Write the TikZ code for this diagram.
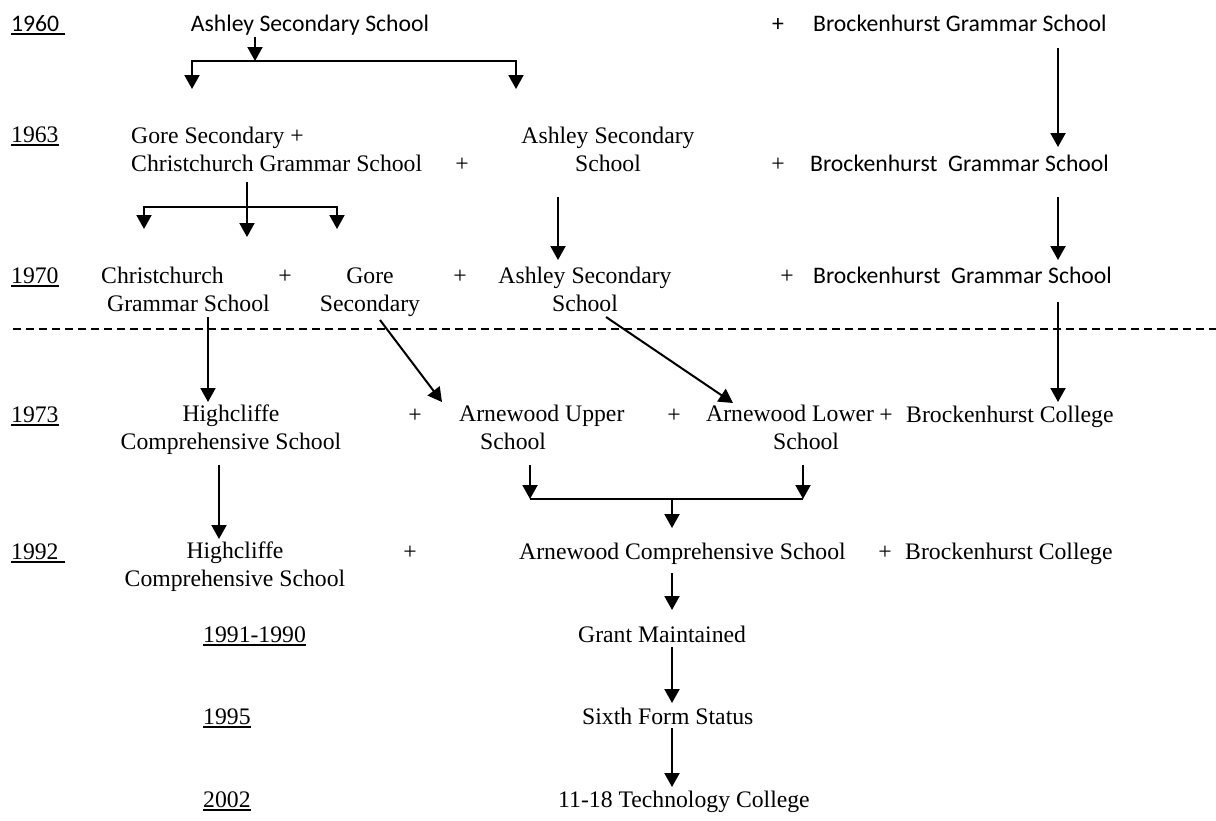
\documentclass[tikz,border=0pt]{standalone}
\usepackage{fontspec}
\setmainfont{Liberation Serif}
\newfontfamily\calib{Carlito}
\usetikzlibrary{arrows.meta}
\newcommand{\yrmark}[1]{\setbox0=\hbox{#1}\rlap{\rule[-4pt]{\wd0}{1.8pt}}\box0}

\begin{document}
\begin{tikzpicture}[x=1pt,y=-1pt,
		txt/.style={inner sep=0pt,anchor=base,font=\fontsize{23.7}{28}\selectfont},
		sans/.style={txt,font=\calib\fontsize{23.7}{28}\selectfont},
		arr/.style={line width=2pt,-{Triangle[length=14pt,width=15pt]}},
		dbl/.style={line width=2pt,{Triangle[length=14pt,width=15pt]}-{Triangle[length=14pt,width=15pt]}}]
	\useasboundingbox (0,0) rectangle (1216,820);
	%years
	\node[sans,anchor=base west] (y60) at (11,31) {\yrmark{1960\ }};
	\node[txt,anchor=base west] (y63) at (11,142) {\yrmark{1963}};
	\node[txt,anchor=base west] (y70) at (11,283) {\yrmark{1970}};
	\node[txt,anchor=base west] (y73) at (11,422) {\yrmark{1973}};
	\node[txt,anchor=base west] (y92) at (11,559) {\yrmark{1992\ }};
	\node[txt,anchor=base west] (y9190) at (203,642) {\yrmark{1991-1990}};
	\node[txt,anchor=base west] (y95) at (203,724) {\yrmark{1995}};
	\node[txt,anchor=base west] (y02) at (203,807) {\yrmark{2002}};
	%1960
	\node[sans] (ash60) at (310,31) {Ashley Secondary School};
	\node[sans] (pl60) at (778,31) {+};
	\node[sans,anchor=base west] (brk60) at (813,31) {Brockenhurst Grammar School};
	%1963 (two lines: base is the last line)
	\node[txt,anchor=base west,align=left] (gc63) at (131,171) {Gore Secondary +\\Christchurch Grammar School};
	\node[txt] (pl63a) at (462,171) {+};
	\node[txt,align=center] (ash63) at (608,171) {Ashley Secondary\\School};
	\node[txt] (pl63b) at (778,171) {+};
	\node[sans,anchor=base west] (brk63) at (810,171) {Brockenhurst\ \ Grammar School};
	%1970
	\node[txt,anchor=base west,align=left] (cc70) at (101,311) {Christchurch\\\hspace*{6pt}Grammar School};
	\node[txt] (pl70a) at (285,283) {+};
	\node[txt,align=center] (gore70) at (370,311) {Gore\\Secondary};
	\node[txt] (pl70b) at (460,283) {+};
	\node[txt,align=center] (ash70) at (585,311) {Ashley Secondary\\School};
	\node[txt] (pl70c) at (787,283) {+};
	\node[sans,anchor=base west] (brk70) at (813,283) {Brockenhurst\ \ Grammar School};
	%1973
	\node[txt,align=center] (hc73) at (231,449) {Highcliffe\\Comprehensive School};
	\node[txt] (pl73a) at (415,422) {+};
	\node[txt,anchor=base west,align=left] (aup73) at (459,449) {Arnewood Upper\\\hspace*{21pt}School};
	\node[txt] (pl73b) at (674,422) {+};
	\node[txt,anchor=base west,align=left] (alow73) at (706,449) {Arnewood Lower\\\hspace*{67pt}School};
	\node[txt] (pl73c) at (886,422) {+};
	\node[txt,anchor=base west] (bc73) at (906,422) {Brockenhurst College};
	%1992
	\node[txt,align=center] (hc92) at (235,586) {Highcliffe\\Comprehensive School};
	\node[txt] (pl92a) at (410,559) {+};
	\node[txt,anchor=base west] (acs92) at (519,559) {Arnewood Comprehensive School};
	\node[txt] (pl92b) at (885,559) {+};
	\node[txt,anchor=base west] (bc92) at (905,559) {Brockenhurst College};
	%later
	\node[txt,anchor=base west] (gm) at (578,642) {Grant Maintained};
	\node[txt,anchor=base west] (sfs) at (582,724) {Sixth Form Status};
	\node[txt,anchor=base west] (tc) at (558,807) {11-18 Technology College};
	%split of ashley
	\coordinate (a60s) at (255,37);
	\coordinate (a60j) at (255,61);
	\coordinate (a60l) at (192,89);
	\coordinate (a60r) at (516,89);
	\draw[arr] (a60s) -- (a60j);
	\draw[dbl] (a60l) |- (a60j) -| (a60r);
	%split of christchurch
	\coordinate (c63s) at (247,182);
	\coordinate (c63e) at (247,237);
	\coordinate (c63j) at (247,207);
	\coordinate (c63l) at (144,229);
	\coordinate (c63r) at (337,229);
	\draw[arr] (c63s) -- (c63e);
	\draw[dbl] (c63l) |- (c63j) -| (c63r);
	%ashley on
	\coordinate (a63s) at (558,197);
	\coordinate (a63e) at (558,260);
	\draw[arr] (a63s) -- (a63e);
	%brockenhurst
	\coordinate (b60s) at (1058,48);
	\coordinate (b60e) at (1058,147);
	\coordinate (b63s) at (1058,197);
	\coordinate (b63e) at (1058,260);
	\coordinate (b70s) at (1058,302);
	\coordinate (b70e) at (1058,402);
	\draw[arr] (b60s) -- (b60e);
	\draw[arr] (b63s) -- (b63e);
	\draw[arr] (b70s) -- (b70e);
	%reorganisation line
	\coordinate (cutl) at (13,329);
	\coordinate (cutr) at (1216,329);
	\draw[line width=1.3pt,dash pattern=on 8pt off 5pt] (cutl) -- (cutr);
	%to comprehensive
	\coordinate (c70s) at (208,317);
	\coordinate (c70e) at (208,402);
	\coordinate (g70s) at (380,320);
	\coordinate (g70e) at (442,402);
	\coordinate (a70s) at (606,317);
	\coordinate (a70e) at (733,403);
	\draw[arr] (c70s) -- (c70e);
	\draw[arr] (g70s) -- (g70e);
	\draw[arr] (a70s) -- (a70e);
	%highcliffe
	\coordinate (h73s) at (219,465);
	\coordinate (h73e) at (219,539);
	\draw[arr] (h73s) -- (h73e);
	%merge of arnewood
	\coordinate (u73s) at (530,465);
	\coordinate (u73e) at (530,499);
	\coordinate (l73s) at (803,465);
	\coordinate (l73e) at (803,499);
	\coordinate (m73j) at (672,499);
	\coordinate (m73e) at (672,528);
	\draw[arr] (u73s) -- (u73e);
	\draw[arr] (l73s) -- (l73e);
	\draw[line width=2pt] (u73e) -- (l73e);
	\draw[arr] (m73j) -- (m73e);
	%arnewood status
	\coordinate (s1s) at (672,573);
	\coordinate (s1e) at (672,610);
	\coordinate (s2s) at (672,647);
	\coordinate (s2e) at (672,703);
	\coordinate (s3s) at (672,728);
	\coordinate (s3e) at (672,787);
	\draw[arr] (s1s) -- (s1e);
	\draw[arr] (s2s) -- (s2e);
	\draw[arr] (s3s) -- (s3e);
\end{tikzpicture}
\end{document}
